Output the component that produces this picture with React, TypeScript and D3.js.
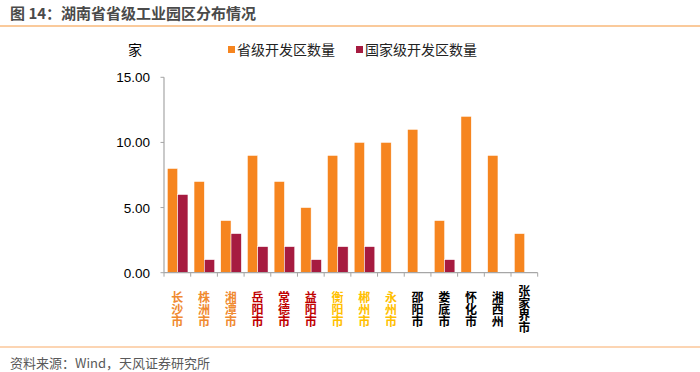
import React from "react";
import * as d3 from "d3";

const categories = ["长沙市", "株洲市", "湘潭市", "岳阳市", "常德市", "益阳市", "衡阳市", "郴州市", "永州市", "邵阳市", "娄底市", "怀化市", "湘西州", "张家界市"];
const provincial = [8, 7, 4, 9, 7, 5, 9, 10, 10, 11, 4, 12, 9, 3];
const national = [6, 1, 3, 2, 2, 1, 2, 2, 0, 0, 1, 0, 0, 0];
const labelColors = ["#F08A30", "#F08A30", "#F08A30", "#C00000", "#C00000", "#C00000", "#FFC000", "#FFC000", "#FFC000", "#000000", "#000000", "#000000", "#000000", "#000000"];
const yTicks = [0, 5, 10, 15];
const seriesNames = ["省级开发区数量", "国家级开发区数量"];
const seriesColors = ["#F6851F", "#A61B40"];

const W = 700, H = 372;
const CJK = "'Noto Sans CJK SC', 'Liberation Sans', sans-serif";
const NUM = "'Liberation Sans', Arial, sans-serif";

export default function App() {
  const x0 = d3.scaleBand<string>().domain(categories).range([164, 537.7]).padding(0);
  const bw = x0.bandwidth();
  const x1 = d3.scaleBand<string>().domain(["p", "n"]).range([bw / 2 - 10.3 + 0.3, bw / 2 + 10.3 + 0.3]).padding(0);
  const y = d3.scaleLinear().domain([0, 15]).range([272.7, 77.3]);
  const axisColor = "#A6A6A6";

  return (
    <svg width={W} height={H} style={{ position: "absolute", left: 0, top: 0, background: "#fff" }}>
      <text x={10} y={19} fontFamily={CJK} fontSize={15} fontWeight="bold" fill="#4A4A4A">图 14：湖南省省级工业园区分布情况</text>
      <line x1={0} x2={W} y1={26} y2={26} stroke="#F9B97A" strokeWidth={1.5} />

      <text x={128} y={55} fontFamily={CJK} fontSize={14} fill="#000">家</text>
      {seriesNames.map((n, i) => {
        const lx = i === 0 ? 228 : 356;
        return (
          <g key={n}>
            <rect x={lx} y={46} width={7} height={7} fill={seriesColors[i]} />
            <text x={lx + 9} y={55} fontFamily={CJK} fontSize={14} fill="#222">{n}</text>
          </g>
        );
      })}

      {yTicks.map(t => (
        <g key={t}>
          <text x={150} y={y(t) + 5} textAnchor="end" fontFamily={NUM} fontSize={13.5} fill="#000">{t.toFixed(2)}</text>
          <line x1={160.5} x2={164} y1={y(t)} y2={y(t)} stroke={axisColor} strokeWidth={1} />
        </g>
      ))}
      <line x1={164} x2={164} y1={y(15)} y2={y(0)} stroke={axisColor} strokeWidth={1.2} />

      {categories.map((c, i) => (
        <g key={c}>
          <rect x={(x0(c) as number) + (x1("p") as number)} width={x1.bandwidth()} y={y(provincial[i])} height={y(0) - y(provincial[i])} fill={seriesColors[0]} stroke="#fff" strokeWidth={0.5} />
          {national[i] > 0 && (
            <rect x={(x0(c) as number) + (x1("n") as number)} width={x1.bandwidth()} y={y(national[i])} height={y(0) - y(national[i])} fill={seriesColors[1]} stroke="#fff" strokeWidth={0.5} />
          )}
        </g>
      ))}

      <line x1={164} x2={537.7} y1={y(0)} y2={y(0)} stroke={axisColor} strokeWidth={1.2} />
      {categories.concat(["__end"]).map((c, i) => {
        const tx = 164 + i * bw;
        return <line key={"t" + i} x1={tx} x2={tx} y1={y(0)} y2={y(0) + 4} stroke={axisColor} strokeWidth={1} />;
      })}

      {categories.map((c, i) => {
        const cx = (x0(c) as number) + bw / 2;
        return (
          <text key={"l" + c} x={cx} y={309} fontFamily={CJK} fontSize={12} fontWeight="bold" fill={labelColors[i]}
            textAnchor="middle" style={{ writingMode: "vertical-rl" as any }}>{c}</text>
        );
      })}

      <line x1={0} x2={W} y1={347} y2={347} stroke={"#FBC79A"} strokeWidth={1.5} />
      <text x={10} y={368} fontFamily={CJK} fontSize={13} fill="#595959">资料来源：Wind，天风证券研究所</text>
    </svg>
  );
}
